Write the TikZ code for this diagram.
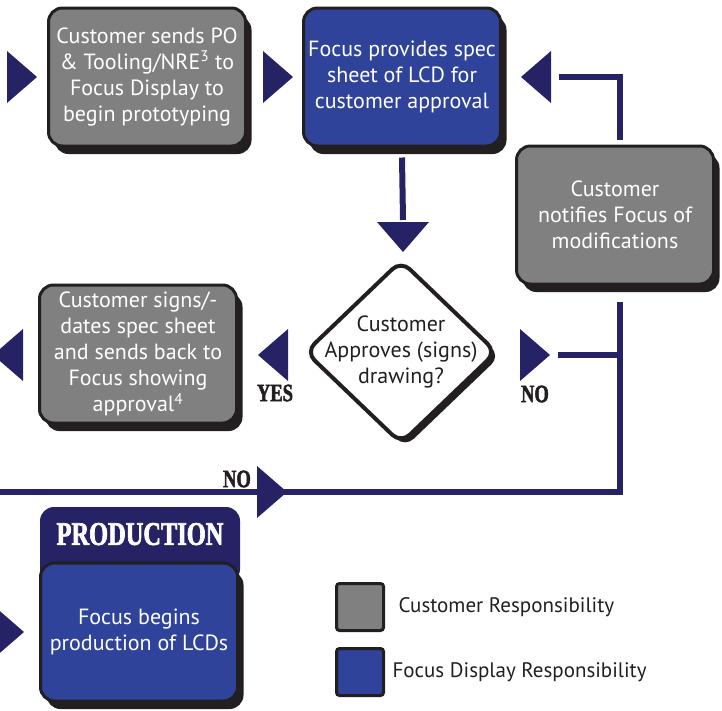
\documentclass[tikz,border=0pt]{standalone}
\usepackage{fontspec}
\setmainfont{PT Sans}
\newfontfamily\posterfont[FakeStretch=0.74,BoldFeatures={FakeBold=2}]{Liberation Serif}
\usetikzlibrary{positioning,shapes.geometric,shadows}
\definecolor{navy}{RGB}{37,34,102}
\definecolor{focusblue}{RGB}{46,67,153}
\definecolor{custgray}{RGB}{128,128,128}
\definecolor{ink}{RGB}{35,31,32}

\begin{document}
\begin{tikzpicture}[x=1pt,y=-1pt,
		box/.style={
			draw=ink,
			line width=3pt,
			rounded corners=14pt,
			minimum width=197pt,
			minimum height=138pt,
			align=center,
			text=white,
			font=\fontsize{22}{26}\selectfont,
			general shadow={fill=ink,shadow xshift=6pt,shadow yshift=-8pt}
		},
		custbox/.style={box,fill=custgray},
		focusbox/.style={box,fill=focusblue},
		dec/.style={draw=ink,fill=white,line width=4pt,shape=diamond,
			rounded corners=12pt,inner sep=0,minimum width=192pt,minimum height=184pt,
			general shadow={fill=ink,shadow xshift=4pt,shadow yshift=-4pt}
		},
		tabbox/.style={fill=navy,rounded corners=14pt,minimum width=200pt,minimum height=76pt},
		keybox/.style={draw=ink,line width=3pt,rounded corners=3pt,minimum size=47pt},
		keytext/.style={text=ink,font=\fontsize{21}{26}\selectfont},
		tag/.style={text=ink,font=\posterfont\bfseries\fontsize{25}{25}\selectfont,inner sep=0},
		link/.style={draw=navy,line width=6pt},
		pics/tri/.style={code={\fill[navy] (0,0) -- (-30,-26) -- (-30,26) -- cycle;}}
		]
		\useasboundingbox (0,0) rectangle (722,710);
		\clip (0,0) rectangle (722,710);
		% Prototype row
		\node[custbox] (sendpo) at (147,77) {Customer sends PO\\\& Tooling/NRE\textsuperscript{3} to\\Focus Display to\\begin prototyping};
		\node[focusbox] (spec) at (402,77) {Focus provides spec\\sheet of LCD for\\customer approval};
		\node[custbox] (notify) at (615,215) {Customer\\notifies Focus of\\modifications};
		% Approval
		\node[dec,label={[text=ink,align=center,font=\fontsize{22}{26}\selectfont]center:{Customer\\Approves (signs)\\drawing?}}] (approve) at (401,352) {};
		\node[custbox] (signs) at (138,354) {Customer signs/-\\dates spec sheet\\and sends back to\\Focus showing\\approval\textsuperscript{4}};
		% Production
		\node[tabbox] (tab) at (140,545) {};
		\node[tag,text=white,font=\posterfont\bfseries\fontsize{33}{33}\selectfont,below=16pt of tab.north] (tabtxt) {PRODUCTION};
		\node[focusbox] (prod) at (139,632) {Focus begins\\production of LCDs};
		% Connectors
		\coordinate (speclow) at (403,220);
		\coordinate (backend) at (559,77);
		\coordinate (nofoot) at (558,355);
		\coordinate (jn) at (620,355);
		\coordinate (exitw) at (-5,492);
		\draw[link] (spec.south) ++(0,10) -- (speclow);
		\draw[link] (notify.north -| jn) ++(0,-5) |- (backend);
		\draw[link] (nofoot) -- (jn);
		\draw[link] (notify.south -| jn) ++(0,16) |- (exitw);
		% Arrow heads
		\foreach \px/\py/\rot in {37/77/0,293/77/0,521/77/180,403/252/-90,258/355/180,550/355/0,-7/355/180,287/492/0,24/632/0}
			\pic[rotate=\rot] at (\px,\py) {tri};
		\node[tag] (yes) at (275,393) {YES};
		\node[tag] (noright) at (535,394) {NO};
		\node[tag] (nolow) at (237,479) {NO};
		% Legend
		\node[keybox,fill=custgray] (keycust) at (360,607) {};
		\node[keybox,fill=focusblue] (keyfocus) at (360,672) {};
		\node[keytext,right=10pt of keycust] (keycusttxt) {Customer Responsibility};
		\node[keytext,right=4pt of keyfocus] (keyfocustxt) {Focus Display Responsibility};
\end{tikzpicture}
\end{document}
